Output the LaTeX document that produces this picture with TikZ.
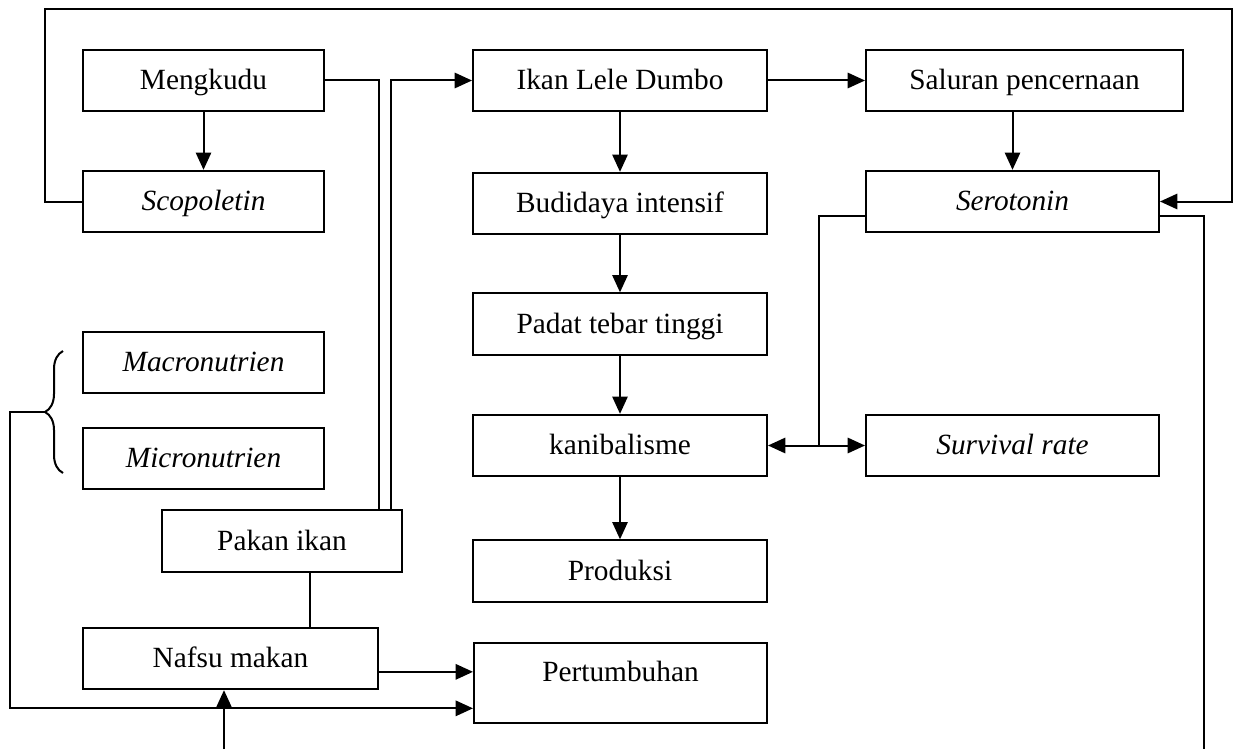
\documentclass[tikz,border=0pt]{standalone}
\usepackage{fontspec}
\setmainfont{Liberation Serif}
\usetikzlibrary{arrows.meta,calc,decorations.pathreplacing}

\begin{document}
\begin{tikzpicture}[x=0.75pt, y=-0.75pt, font=\fontsize{22}{26}\selectfont, line width=1.5pt,
    box/.style={draw, inner sep=0pt, minimum height=46pt, text height=19pt, text depth=5.5pt},
    arr/.style={-{Triangle[length=13pt,width=11.5pt]}},
    both/.style={{Triangle[length=13pt,width=11.5pt]}-{Triangle[length=13pt,width=11.5pt]}}]
  \useasboundingbox (0,0) rectangle (1234,749);
  \foreach \n/\x/\y/\w/\t in {meng/203.5/80.5/180.75/Mengkudu,
      scop/203.5/201.5/180.75/{\textit{Scopoletin}}, macro/203.5/362.5/180.75/{\textit{Macronutrien}},
      micro/203.5/458.5/180.75/{\textit{Micronutrien}}, pakan/282/541/180/Pakan ikan,
      nafsu/230.5/658.5/221.25/Nafsu makan, ikan/620/80.5/220.5/Ikan Lele Dumbo,
      budi/620/203.5/220.5/Budidaya intensif, padat/620/324/220.5/Padat tebar tinggi,
      kanib/620/445.5/220.5/kanibalisme, prod/620/571/220.5/Produksi,
      salur/1024.5/80.5/237.75/Saluran pencernaan, sero/1012.5/201.5/219.75/{\textit{Serotonin}},
      surv/1012.5/445.5/219.75/{\textit{Survival rate}}} {
    \node[box, minimum width=\w pt] (\n) at (\x,\y) {\t};
  }
  \node[draw, inner sep=0pt, minimum width=219.75pt, text height=29pt, text depth=31pt]
    (pert) at (620.5,683) {Pertumbuhan};
  \draw[arr] (meng) -- (scop);
  \draw[arr] (scop.west) -- (45,201.5) |- (1232,9) |- (sero.east);
  \draw (meng.east) -| ([xshift=-18pt]pakan.north east);
  \draw[arr] ([xshift=-9pt]pakan.north east) |- (ikan.west);
  \draw[arr] (ikan) -- (salur);
  \foreach \a/\b in {ikan/budi, budi/padat, padat/kanib, kanib/prod}
    \draw[arr] (\a) -- (\b);
  \draw[arr] (sero.north |- salur.south) -- (sero.north);
  \coordinate (mid) at ($(kanib.east)!0.53!(surv.west)$);
  \draw[both] (kanib.east) -- (surv.west);
  \draw ([yshift=-11pt]sero.west) -| (mid);
  \coordinate (outR) at (1204,749);
  \draw ([yshift=-11pt]sero.east) -| (outR);
  \draw ([xshift=21pt]pakan.south) -- ([xshift=21pt]pakan.south |- nafsu.north);
  \draw[arr] ([yshift=-10pt]nafsu.east) -- ([yshift=-10pt]nafsu.east -| pert.west);
  \coordinate (inL) at (224,749);
  \draw[arr] (inL) -- (inL |- nafsu.south);
  \draw[decorate, decoration={brace, amplitude=13.5pt}] (63,473) -- (63,351);
  \coordinate (brTip) at (45,412);
  \draw[arr] (brTip) -- (10,412) |- ([yshift=-19pt]pert.west);
\end{tikzpicture}
\end{document}
